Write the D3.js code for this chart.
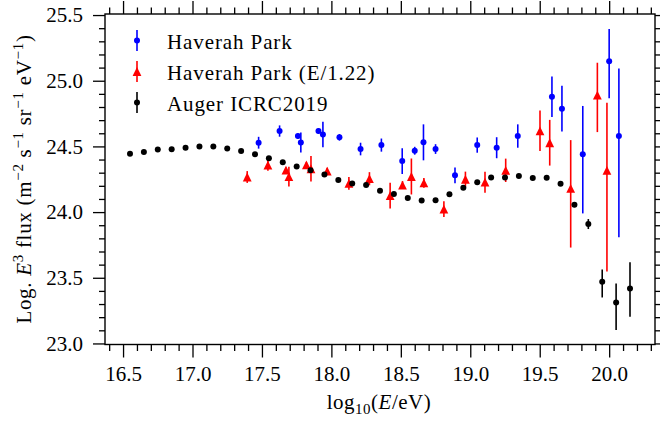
<!DOCTYPE html>
<html><head><meta charset="utf-8">
<script src="https://cdn.jsdelivr.net/npm/d3@7"></script>
<style>
body{margin:0;background:#fff}
svg text, svg tspan{font-family:'Liberation Serif' !important;}
</style>
</head><body>
<svg id="c" width="660" height="423" font-family="Liberation Serif"></svg>
<script>
// ---- data ----
const augerX = [16.55,16.65,16.75,16.85,16.95,17.05,17.15,17.25,17.35,17.45,17.55,17.65,17.75,17.85,17.95,18.05,18.15,18.25,18.35,18.45,18.55,18.65,18.75,18.85,18.95,19.05,19.15,19.25,19.35,19.45,19.55,19.65,19.75,19.85,19.95,20.05,20.15];
const augerY = [24.444,24.457,24.477,24.478,24.490,24.500,24.500,24.485,24.465,24.440,24.410,24.380,24.348,24.319,24.286,24.244,24.218,24.206,24.162,24.137,24.107,24.089,24.091,24.135,24.185,24.228,24.264,24.264,24.274,24.259,24.262,24.216,24.056,23.909,23.469,23.312,23.419];
const augerErrUp   = [0.004,0.004,0.004,0.004,0.004,0.004,0.004,0.004,0.004,0.004,0.004,0.004,0.004,0.004,0.004,0.005,0.005,0.005,0.005,0.005,0.005,0.006,0.006,0.006,0.006,0.007,0.007,0.008,0.009,0.010,0.011,0.013,0.018,0.038,0.094,0.145,0.200];
const augerErrDown = [0.004,0.004,0.004,0.004,0.004,0.004,0.004,0.004,0.004,0.004,0.004,0.004,0.004,0.004,0.004,0.005,0.005,0.005,0.005,0.005,0.005,0.006,0.006,0.006,0.006,0.007,0.007,0.008,0.009,0.010,0.011,0.013,0.018,0.038,0.119,0.210,0.216];

const hpX = [17.476,17.627,17.759,17.780,17.907,17.939,18.058,18.210,18.360,18.510,18.600,18.663,18.750,18.890,19.050,19.190,19.342,19.588,19.660,19.810,20.000,20.070];
const hpY = [24.528,24.617,24.579,24.530,24.617,24.590,24.569,24.480,24.510,24.388,24.467,24.531,24.480,24.280,24.510,24.490,24.579,24.878,24.787,24.440,25.148,24.579];
const hpErrUp   = [0.045,0.043,0.020,0.076,0.020,0.097,0.025,0.048,0.050,0.098,0.030,0.137,0.037,0.060,0.058,0.080,0.089,0.154,0.174,0.368,0.246,0.515];
const hpErrDown = [0.045,0.043,0.020,0.076,0.020,0.097,0.025,0.048,0.050,0.098,0.030,0.137,0.037,0.060,0.058,0.080,0.089,0.154,0.174,0.450,0.282,0.770];

const hpcX = [17.394,17.543,17.673,17.694,17.820,17.853,17.970,18.126,18.274,18.423,18.512,18.576,18.666,18.810,18.965,19.106,19.255,19.502,19.572,19.723,19.915,19.984];
const hpcY = [24.267,24.358,24.320,24.270,24.360,24.330,24.312,24.219,24.254,24.126,24.206,24.271,24.223,24.023,24.250,24.228,24.318,24.619,24.528,24.180,24.891,24.318];
const hpcErrUp   = [0.045,0.043,0.020,0.076,0.020,0.097,0.025,0.048,0.050,0.098,0.030,0.137,0.037,0.060,0.058,0.080,0.089,0.154,0.174,0.368,0.246,0.515];
const hpcErrDown = [0.045,0.043,0.020,0.076,0.020,0.097,0.025,0.048,0.050,0.098,0.030,0.137,0.037,0.060,0.058,0.080,0.089,0.154,0.174,0.450,0.282,0.770];

const xMajor = [16.5,17.0,17.5,18.0,18.5,19.0,19.5,20.0];
const yMajor = [23.0,23.5,24.0,24.5,25.0,25.5];
const legendLabels = ["Haverah Park","Haverah Park (E/1.22)","Auger ICRC2019"];
const colors = ["#0000ff","#ff0000","#000000"];

// ---- layout ----
const FONT = 'Liberation Serif';
const svg = d3.select('#c');
const L=105,R=655,T=14,B=344.5;
const x = d3.scaleLinear().domain([16.37,20.33]).range([L,R]);
const y = d3.scaleLinear().domain([22.992,25.508]).range([B,T]);
const xMinor = d3.range(164,204).map(v=>v/10).filter(v=>!xMajor.some(m=>Math.abs(m-v)<1e-6));
const yMinor = d3.range(230,256).map(v=>v/10).filter(v=>!yMajor.some(m=>Math.abs(m-v)<1e-6));
const fmt = d3.format(".1f");

function styleAxis(g){
  g.attr('font-family',FONT).attr('font-size',21);
  g.select('.domain').remove();
  g.selectAll('line').attr('stroke','#000').attr('stroke-width',1.3);
  g.selectAll('text').attr('font-family',FONT).attr('font-size',21).attr('fill','#000');
}
svg.append('g').attr('transform',`translate(0,${B})`).call(d3.axisBottom(x).tickValues(xMajor).tickFormat(fmt).tickSize(13).tickPadding(8.5)).call(styleAxis);
svg.append('g').attr('transform',`translate(0,${B})`).call(d3.axisBottom(x).tickValues(xMinor).tickFormat('').tickSize(6.5)).call(styleAxis);
svg.append('g').attr('transform',`translate(0,${T})`).call(d3.axisTop(x).tickValues(xMajor).tickFormat('').tickSize(13)).call(styleAxis);
svg.append('g').attr('transform',`translate(0,${T})`).call(d3.axisTop(x).tickValues(xMinor).tickFormat('').tickSize(6.5)).call(styleAxis);
svg.append('g').attr('transform',`translate(${L},0)`).call(d3.axisLeft(y).tickValues(yMajor).tickFormat(fmt).tickSize(12).tickPadding(10)).call(styleAxis);
svg.append('g').attr('transform',`translate(${L},0)`).call(d3.axisLeft(y).tickValues(yMinor).tickFormat('').tickSize(6)).call(styleAxis);
svg.append('g').attr('transform',`translate(${R},0)`).call(d3.axisRight(y).tickValues(yMajor).tickFormat('').tickSize(12)).call(styleAxis);
svg.append('g').attr('transform',`translate(${R},0)`).call(d3.axisRight(y).tickValues(yMinor).tickFormat('').tickSize(6)).call(styleAxis);

svg.append('rect').attr('x',L).attr('y',T).attr('width',R-L).attr('height',B-T)
  .attr('fill','none').attr('stroke','#000').attr('stroke-width',1.4);

// ---- series ----
const plot = svg.append('g');
function series(xs, ys, up, dn, color, marker){
  const g = plot.append('g');
  const d = xs.map((v,i)=>({x:v,y:ys[i],u:up[i],dd:dn[i]}));
  g.selectAll('line.eb').data(d).join('line')
    .attr('x1',p=>x(p.x)).attr('x2',p=>x(p.x))
    .attr('y1',p=>y(p.y+p.u)).attr('y2',p=>y(p.y-p.dd))
    .attr('stroke',color).attr('stroke-width',1.6);
  if(marker==='circle'){
    g.selectAll('circle').data(d).join('circle')
      .attr('cx',p=>x(p.x)).attr('cy',p=>y(p.y)).attr('r',3).attr('fill',color);
  } else {
    const h=4.4;
    g.selectAll('path').data(d).join('path')
      .attr('d',p=>`M${x(p.x)},${y(p.y)-h}L${x(p.x)-h},${y(p.y)+h}L${x(p.x)+h},${y(p.y)+h}Z`)
      .attr('fill',color);
  }
}
series(hpX,hpY,hpErrUp,hpErrDown,colors[0],'circle');
series(hpcX,hpcY,hpcErrUp,hpcErrDown,colors[1],'tri');
series(augerX,augerY,augerErrUp,augerErrDown,colors[2],'circle');

// ---- legend ----
const leg = svg.append('g').attr('font-family',FONT);
const markers = ['circle','tri','circle'];
legendLabels.forEach((lab,i)=>{
  const cy = 40.5 + i*31, cx = 137;
  leg.append('line').attr('x1',cx).attr('x2',cx).attr('y1',cy-10.5).attr('y2',cy+10.5)
    .attr('stroke',colors[i]).attr('stroke-width',1.6);
  if(markers[i]==='circle') leg.append('circle').attr('cx',cx).attr('cy',cy).attr('r',3).attr('fill',colors[i]);
  else { const h=4.4; leg.append('path').attr('d',`M${cx},${cy-h}L${cx-h},${cy+h}L${cx+h},${cy+h}Z`).attr('fill',colors[i]); }
  leg.append('text').attr('x',167).attr('y',cy+8.5)
    .attr('font-family',FONT).attr('font-size',21).attr('letter-spacing',0.9).text(lab);
});

// ---- axis labels ----
const xl = svg.append('text').attr('x',379).attr('y',409).attr('text-anchor','middle')
  .attr('font-family',FONT).attr('font-size',21).attr('letter-spacing',0.5);
xl.append('tspan').text('log');
xl.append('tspan').attr('font-size',15).attr('dy',5).text('10');
xl.append('tspan').attr('dy',-5).text('(');
xl.append('tspan').attr('font-style','italic').text('E');
xl.append('tspan').text('/eV)');

const yl = svg.append('text').attr('transform','translate(31,179) rotate(-90)').attr('text-anchor','middle')
  .attr('font-family',FONT).attr('font-size',21).attr('letter-spacing',0.7);
const ylParts = [['Log. ',0],['E',2],['3',1],[' flux (m',0],['−2',1],[' s',0],['−1',1],[' sr',0],['−1',1],[' eV',0],['−1',1],[')',0]];
let lastSup = false;
ylParts.forEach(([t,kind])=>{
  const ts = yl.append('tspan').text(t);
  if(kind===1){ ts.attr('font-size',15).attr('dy',-8); lastSup=true; }
  else { if(lastSup) ts.attr('dy',8); lastSup=false; if(kind===2) ts.attr('font-style','italic'); }
});
</script>
</body></html>
